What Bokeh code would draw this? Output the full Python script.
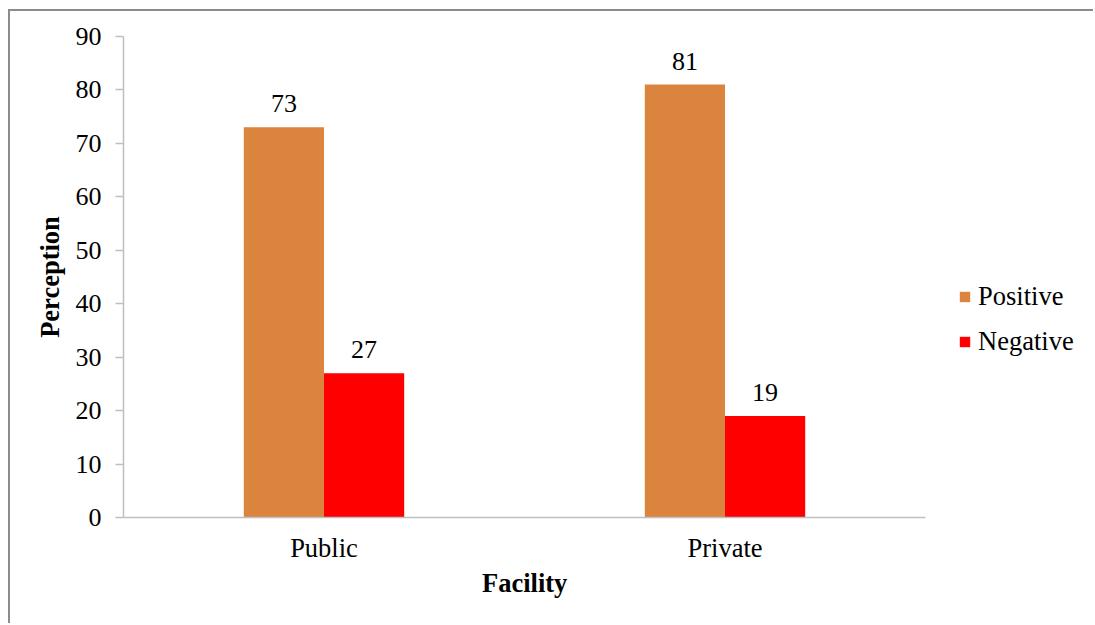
from bokeh.plotting import figure
from bokeh.models import (ColumnDataSource, Range1d, FixedTicker,
                          LabelSet, Legend, LegendItem, Title)
from bokeh.embed import file_html
from bokeh.resources import INLINE

# Perception by type of facility (%)
facilities = ["Public", "Private"]
positive = [73, 81]
negative = [27, 19]
y_ticks = [0, 10, 20, 30, 40, 50, 60, 70, 80, 90]

FONT = "Liberation Serif"
POS_COLOR = "#DB843E"
NEG_COLOR = "#FF0000"
AXIS_COLOR = "#BFBFBF"

# each facility occupies one unit on the x axis, centred at i + 0.5
centers = [i + 0.5 for i in range(len(facilities))]
bar_w = 0.2

source = ColumnDataSource(dict(
    center=centers,
    x_pos=[c - bar_w / 2 for c in centers],
    x_neg=[c + bar_w / 2 for c in centers],
    positive=positive,
    negative=negative,
    pos_text=[str(v) for v in positive],
    neg_text=[str(v) for v in negative],
))

# plot area: 802 px for the two groups, the rest on the right holds the legend
canvas_w, canvas_h = 1085, 614
left_b, top_b, bottom_b = 113, 25, 108
groups_px = 802
group_px = groups_px / len(facilities)
x_end = (canvas_w - left_b) / group_px

p = figure(
    x_range=Range1d(0, x_end),
    y_range=Range1d(0, 90),
    width=canvas_w, height=canvas_h,
    min_border_left=left_b, min_border_right=0,
    min_border_top=top_b, min_border_bottom=bottom_b,
    output_backend="svg", toolbar_location=None,
)
p.styles = {
    "margin-left": "8px", "margin-top": "9px",
    "border-left": "2px solid #8C8C8C", "border-top": "2px solid #8C8C8C",
}
p.outline_line_color = None
p.xgrid.grid_line_color = None
p.ygrid.grid_line_color = None
p.background_fill_color = "white"
p.border_fill_color = "white"

r_pos = p.vbar(x="x_pos", top="positive", width=bar_w, source=source,
               fill_color=POS_COLOR, line_color=None)
r_neg = p.vbar(x="x_neg", top="negative", width=bar_w, source=source,
               fill_color=NEG_COLOR, line_color=None)

# value labels above each bar
for xcol, col, txt in (("x_pos", "positive", "pos_text"), ("x_neg", "negative", "neg_text")):
    p.add_layout(LabelSet(
        x=xcol, y=col, text=txt, source=source,
        text_align="center", text_baseline="alphabetic", y_offset=15,
        text_font=FONT, text_font_size="26px", text_color="black",
    ))

# y axis
ya = p.yaxis[0]
ya.ticker = FixedTicker(ticks=y_ticks)
ya.axis_label = "Perception"
ya.axis_label_text_font = FONT
ya.axis_label_text_font_style = "bold"
ya.axis_label_text_font_size = "26.5px"
ya.axis_label_text_color = "black"
ya.axis_label_standoff = 8
ya.major_label_text_font = FONT
ya.major_label_text_font_size = "26px"
ya.major_label_text_color = "black"
ya.major_label_standoff = 14
ya.axis_line_color = AXIS_COLOR
ya.axis_line_width = 1.5
ya.major_tick_line_color = AXIS_COLOR
ya.major_tick_line_width = 1.5
ya.major_tick_out = 8
ya.major_tick_in = 0
ya.minor_tick_line_color = None

# x axis: category names at group centres, line only under the groups
xa = p.xaxis[0]
xa.ticker = FixedTicker(ticks=centers)
xa.major_label_overrides = {c: name for c, name in zip(centers, facilities)}
xa.bounds = (0, len(facilities))
xa.major_label_text_font = FONT
xa.major_label_text_font_size = "26.5px"
xa.major_label_text_color = "black"
xa.major_label_standoff = 9
xa.axis_line_color = AXIS_COLOR
xa.axis_line_width = 1.5
xa.major_tick_line_color = None
xa.minor_tick_line_color = None

# x axis title, centred under the two groups rather than the whole frame
x_title_w = 85
p.add_layout(Title(
    text="Facility", align="left", offset=groups_px / 2 - x_title_w / 2,
    text_font=FONT, text_font_style="bold", text_font_size="26.5px",
    text_color="black", standoff=0,
), "below")

legend = Legend(
    items=[LegendItem(label="Positive", renderers=[r_pos]),
           LegendItem(label="Negative", renderers=[r_neg])],
    location=(835, 160),
    padding=0, margin=0, spacing=14,
    glyph_width=13, glyph_height=13, label_standoff=7, label_height=30,
    label_text_font=FONT, label_text_font_size="26.5px", label_text_color="black",
    border_line_color=None, background_fill_alpha=0,
)
p.add_layout(legend, "center")

open("out.html", "w").write(file_html(p, INLINE))
